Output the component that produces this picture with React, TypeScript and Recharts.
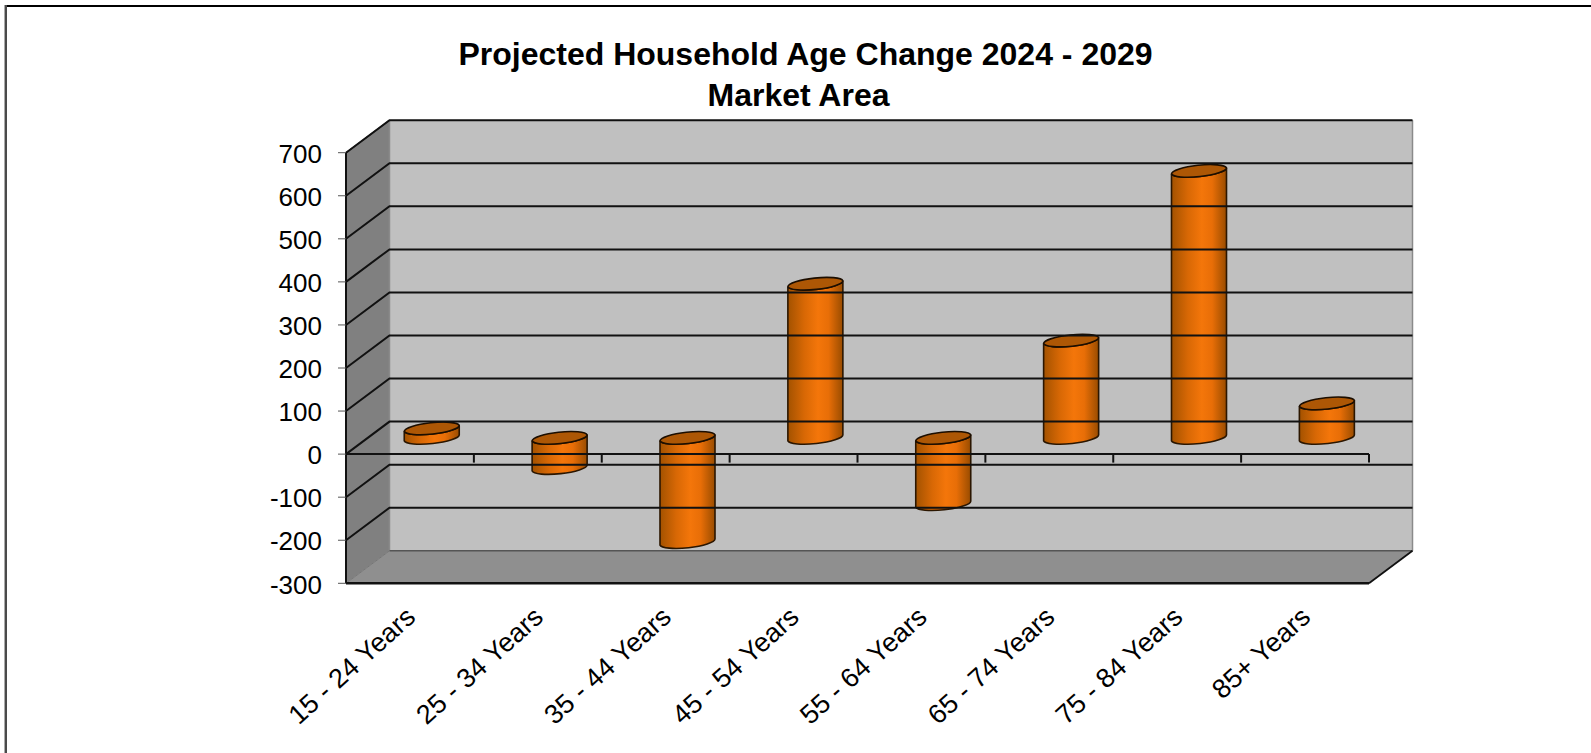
import React from 'react'
import {
  BarChart,
  Bar,
  XAxis,
  YAxis,
  ReferenceArea,
  ReferenceLine,
} from 'recharts'

const categories = [
  '15 - 24 Years',
  '25 - 34 Years',
  '35 - 44 Years',
  '45 - 54 Years',
  '55 - 64 Years',
  '65 - 74 Years',
  '75 - 84 Years',
  '85+ Years',
]
const changes = [22, -70, -242, 358, -154, 226, 620, 80]
const yTicks = [-300, -200, -100, 0, 100, 200, 300, 400, 500, 600, 700]
const gridValues = [-200, -100, 0, 100, 200, 300, 400, 500, 600, 700]

const chartData = categories.map((name, i) => ({ name, value: changes[i] }))

// how far the back wall sits behind the front plane
const DEPTH_X = 43.5
const DEPTH_Y = -32.5
const FONT = '"Liberation Sans", Arial, sans-serif'

// walls and floor of the 3D box
function Box(props: any) {
  const { x, y, width, height } = props
  const r = x + width
  const b = y + height
  const bx = x + DEPTH_X
  const brx = r + DEPTH_X
  const by = b + DEPTH_Y
  const ty = y + DEPTH_Y
  return (
    <g>
      <polygon points={`${bx},${ty} ${brx},${ty} ${brx},${by} ${bx},${by}`} fill="#c0c0c0" />
      <polygon points={`${x},${y} ${bx},${ty} ${bx},${by} ${x},${b}`} fill="#808080" />
      <polygon points={`${x},${b} ${bx},${by} ${brx},${by} ${r},${b}`} fill="#8f8f8f" />
      <line x1={bx} y1={ty} x2={bx} y2={by} stroke="#8a8a8a" strokeWidth={1.5} />
      <line x1={brx} y1={ty} x2={brx} y2={by} stroke="#8a8a8a" strokeWidth={1.5} />
      <line x1={x} y1={y} x2={bx} y2={ty} stroke="#555" strokeWidth={1.2} />
      <line x1={x} y1={b} x2={bx} y2={by} stroke="#777" strokeWidth={1} />
      <line x1={bx} y1={by} x2={brx} y2={by} stroke="#555" strokeWidth={1.5} />
      <line x1={brx} y1={by} x2={r} y2={b} stroke="#111" strokeWidth={1.8} />
    </g>
  )
}

// a gridline runs up the left wall and then along the back wall
function WallLine(props: any) {
  const { x1, y1, x2, y2 } = props
  const xa = Math.min(x1, x2)
  const xb = Math.max(x1, x2)
  return (
    <polyline
      points={`${xa},${y1} ${xa + DEPTH_X},${y1 + DEPTH_Y} ${xb + DEPTH_X},${y2 + DEPTH_Y}`}
      fill="none"
      stroke="#111"
      strokeWidth={2}
    />
  )
}

// the category axis crosses at zero on the front plane
function ZeroAxis(props: any) {
  const { x1, y1, x2 } = props
  const xa = Math.min(x1, x2)
  const xb = Math.max(x1, x2)
  const step = (xb - xa) / categories.length
  return (
    <g>
      <line x1={xa} y1={y1} x2={xb} y2={y1} stroke="#111" strokeWidth={2} />
      {[...categories, ''].map((_, i) => (
        <line
          key={i}
          x1={xa + i * step}
          y1={y1}
          x2={xa + i * step}
          y2={y1 + 8.5}
          stroke="#111"
          strokeWidth={2}
        />
      ))}
    </g>
  )
}

function Cylinder(props: any) {
  const { x, y, width, height } = props
  const cx = x + width / 2 + DEPTH_X / 2 + 0.5
  const top = Math.min(y, y + height) + DEPTH_Y / 2
  const bottom = Math.max(y, y + height) + DEPTH_Y / 2
  const rx = width / 2
  const ry = 6
  const tilt = 3 // left edge sits lower than the right edge
  const xl = cx - rx
  const xr = cx + rx
  const arc = `A ${rx + 0.2} ${ry} -6`
  return (
    <g>
      <path
        d={`M ${xl} ${top + tilt} L ${xl} ${bottom + tilt} ${arc} 0 0 ${xr} ${bottom - tilt} L ${xr} ${top - tilt} ${arc} 0 1 ${xl} ${top + tilt} Z`}
        fill="url(#cylinderBody)"
        stroke="#2b1600"
        strokeWidth={1.6}
      />
      <path
        d={`M ${xl} ${top + tilt} ${arc} 0 1 ${xr} ${top - tilt} ${arc} 0 1 ${xl} ${top + tilt} Z`}
        fill="#ad5705"
        stroke="#1c0e00"
        strokeWidth={1.6}
      />
    </g>
  )
}

function CategoryTick(props: any) {
  const { x, y, payload } = props
  return (
    <text
      x={x + 7}
      y={y + 28}
      transform={`rotate(-42 ${x + 7} ${y + 28})`}
      textAnchor="end"
      fontFamily={FONT}
      fontSize={27}
      fill="#000"
    >
      {payload.value}
    </text>
  )
}

const titleStyle: React.CSSProperties = {
  position: 'absolute',
  left: 0,
  textAlign: 'center',
  fontFamily: FONT,
  fontWeight: 'bold',
  fontSize: 32,
  lineHeight: '34px',
  color: '#000',
}

export default function App() {
  return (
    <div style={{ position: 'absolute', left: 0, top: 0, width: 1591, height: 753, overflow: 'hidden', background: '#fff' }}>
      <div style={{ position: 'absolute', left: 5, top: 5, right: 0, height: 2, background: '#000' }} />
      <div style={{ position: 'absolute', left: 4, top: 5, bottom: 0, width: 2, background: '#4a4a4a', borderLeft: '1px solid #aaa' }} />
      <div style={{ ...titleStyle, top: 37, width: 1611 }}>Projected Household Age Change 2024 - 2029</div>
      <div style={{ ...titleStyle, top: 78, width: 1597 }}>Market Area</div>

      <BarChart
        width={1591}
        height={753}
        data={chartData}
        margin={{ top: 152.7, right: 222, bottom: 0, left: 0 }}
        barSize={55}
        style={{ position: 'absolute', left: 0, top: 0 }}
      >
        <defs>
          <linearGradient id="cylinderBody" x1="0" y1="0" x2="1" y2="0">
            <stop offset="0%" stopColor="#a35200" />
            <stop offset="30%" stopColor="#d86805" />
            <stop offset="55%" stopColor="#f4760a" />
            <stop offset="74%" stopColor="#e86e07" />
            <stop offset="100%" stopColor="#994c00" />
          </linearGradient>
        </defs>
        <XAxis
          dataKey="name"
          interval={0}
          tickLine={false}
          axisLine={{ stroke: '#111', strokeWidth: 2.4 }}
          tick={<CategoryTick />}
          height={169.7}
        />
        <YAxis
          width={346}
          domain={[-300, 700]}
          ticks={yTicks}
          interval={0}
          tickSize={8}
          tickMargin={16}
          axisLine={{ stroke: '#111', strokeWidth: 2 }}
          tickLine={{ stroke: '#555', strokeWidth: 1 }}
          tick={{ fontFamily: FONT, fontSize: 26, fill: '#000', dy: 1 }}
        />
        <ReferenceArea y1={-300} y2={700} ifOverflow="visible" shape={<Box />} />
        {gridValues.map(v => (
          <ReferenceLine key={v} y={v} ifOverflow="visible" shape={<WallLine />} />
        ))}
        <ReferenceLine y={0} ifOverflow="visible" shape={<ZeroAxis />} />
        <Bar dataKey="value" isAnimationActive={false} shape={<Cylinder />} />
      </BarChart>
    </div>
  )
}
